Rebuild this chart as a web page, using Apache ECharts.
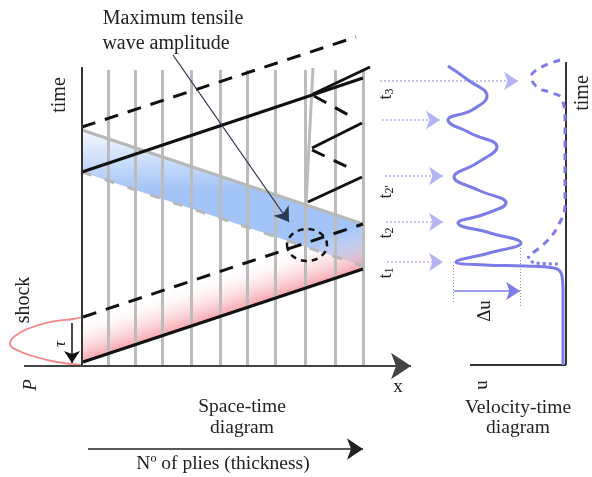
<!DOCTYPE html>
<html><head><meta charset="utf-8">
<script src="https://cdn.jsdelivr.net/npm/echarts@6/dist/echarts.min.js"></script>
<style>html,body{margin:0;padding:0;background:#fff}#c{width:592px;height:477px}</style>
</head><body><div id="c"></div>
<script>
// ---- Space-time diagram data (x = through-thickness position, t = time, diagram units) ----
const plyBoundaries = [108,135,162,191,220,247,275,305,335,363];
const plyTopT = 70, baseT = 366;
const tiltedPly = [[313,68],[306,205]];
const compressionFront = [[83,362],[363,269]];
const compressionTail  = [[83,317],[363,224]];
const reflectedFront   = [[82,172],[363,78]];
const reflectedTail    = [[82,127],[356,37]];
const branchFront      = [[313,94],[370,67]];
const zigSolid  = [[[312,148],[362,123]], [[308,202],[362,177]]];
const zigDashed = [[[314,96],[354,118]], [[312,150],[354,170]]];
const tensionBandTop    = [[82,130],[363,224]];
const tensionBandBottom = [[82,172],[363,266]];
const shockPulse = [[82,317],[73,319],[50,322],[30,328],[15,336],[10,344],[17,350],[33,356],[57,362],[81,365]];
const maxAmpEllipse = {c:[307,245], rx:20, ry:16};
// ---- Velocity-time diagram data (u = free-surface velocity, t = time) ----
const velocityWave = [[448,66],[468,80],[487,96],[472,110],[448,120],[470,133],[497,147],[477,163],[454,177],[478,190],[506,203],[485,214],[458,223],[490,233],[521,243],[489,253],[456,262],[485,265],[525,266],[554,268],[562,276],[563,292],[563,365]];
const velocityDashed = [[560,60],[531,77],[538,88],[549,92],[562,99],[565,122],[565,205],[559,224],[546,242],[528,256]];
const velocityDotted = [[528,256],[535,263],[559,264]];
const tMarksT = [81,120,176,222,262];
const tMarksStartU = [380,382,385,386,387];
const tMarksEndU = [518,440,443,443,443];
const deltaU = [[454,291],[520,291]];
const deltaGuides = [[[453,262],[453,304]], [[520,245],[520,308]]];

const serif = '"Liberation Serif","DejaVu Serif",serif';
const BLUE = '#7b7ce8';

function seg(a,b){return {coords:[a,b]};}
function linesSeries(data, style, sym){
  return {type:'lines', coordinateSystem:'cartesian2d', polyline:false, silent:true,
    symbol: sym ? ['none','arrow'] : ['none','none'], symbolSize: sym || 0,
    lineStyle: Object.assign({opacity:1, curveness:0}, style), data: data, z: style.z || 3};
}

const chart = echarts.init(document.getElementById('c'), null, {renderer:'canvas'});

function polyItem(pts, gradFn){
  return {type:'custom', silent:true, z:1, data:[0],
    renderItem: function(params, api){
      const p = pts.map(q => api.coord(q));
      return {type:'polygon', shape:{points:p}, style:{fill: gradFn(api), stroke:null}};
    }};
}

const option = {
  animation:false,
  grid:{left:0,right:0,top:0,bottom:0},
  xAxis:{type:'value', min:0, max:592, show:false},
  yAxis:{type:'value', min:0, max:477, inverse:true, show:false},
  series:[
    // blue tensile band
    polyItem([tensionBandTop[0], tensionBandTop[1], tensionBandBottom[1], tensionBandBottom[0]], function(api){
      const a = api.coord([0,132]), b = api.coord([0,190]);
      return new echarts.graphic.LinearGradient(a[0],a[1],b[0],b[1],
        [{offset:0,color:'#f2f7ff'},{offset:1,color:'#a3c4f7'}], true);
    }),
    // pink compressive wedge
    Object.assign(polyItem([compressionTail[0], compressionTail[1], compressionFront[1], compressionFront[0]], function(api){
      const a = api.coord([83,317]), b = api.coord([96.5,357.5]);
      return new echarts.graphic.LinearGradient(a[0],a[1],b[0],b[1],
        [{offset:0,color:'rgba(255,255,255,0)'},{offset:1,color:'rgba(246,160,168,0.95)'}], true);
    }), {z:2}),
    // ply boundaries
    linesSeries(plyBoundaries.map(x => seg([x,plyTopT],[x,baseT])).concat([seg(tiltedPly[0],tiltedPly[1])]),
      {color:'#bcbcbc', width:3}),
    // band edges
    linesSeries([seg(tensionBandTop[0],tensionBandTop[1])], {color:'#b8b8b8', width:3, z:4}),
    linesSeries([seg(tensionBandBottom[0],tensionBandBottom[1])], {color:'#b8b8b8', width:3, type:[10,14], z:4}),
    // black wave fronts
    linesSeries([seg(compressionFront[0],compressionFront[1]), seg(reflectedFront[0],reflectedFront[1]),
      seg(branchFront[0],branchFront[1])].concat(zigSolid.map(s=>seg(s[0],s[1]))),
      {color:'#111', width:3, z:5}),
    linesSeries([seg(compressionTail[0],compressionTail[1]), seg(reflectedTail[0],reflectedTail[1])]
      .concat(zigDashed.map(s=>seg(s[0],s[1]))),
      {color:'#111', width:3, type:[14,10], z:5}),
    // axes of space-time diagram
    linesSeries([seg([82,67],[82,baseT])], {color:'#333', width:2, z:6}),
    linesSeries([seg([24,baseT],[411,baseT])], {color:'#444', width:2, z:6}, [16,20]),
    // tau arrow
    linesSeries([seg([72,323],[72,363])], {color:'#111', width:1.5, z:6}, [8,12]),
    // annotation arrow
    linesSeries([seg([173,55],[289,222])], {color:'#2b3a52', width:1.3, z:7}, [10,14]),
    // thickness arrow
    linesSeries([seg([88,449],[363,449])], {color:'#222', width:1.5, z:6}, [12,16]),
    // shock pulse
    {type:'line', data:shockPulse, smooth:0.5, symbol:'none', silent:true, z:3,
      lineStyle:{color:'#f08a8a', width:1.8}},
    // max amplitude ellipse
    {type:'custom', silent:true, z:8, data:[0], renderItem:function(params, api){
      const c = api.coord(maxAmpEllipse.c);
      const rx = api.size([maxAmpEllipse.rx,0])[0], ry = api.size([0,maxAmpEllipse.ry])[1];
      return {type:'path', shape:{pathData:
        'M'+(c[0]-rx)+' '+c[1]+' A'+rx+' '+ry+' 0 1 0 '+(c[0]+rx)+' '+c[1]+' A'+rx+' '+ry+' 0 1 0 '+(c[0]-rx)+' '+c[1]+' Z'},
        style:{fill:null, stroke:'#111', lineWidth:2.5, lineDash:[6,5]}};
    }},
    // velocity-time axes
    linesSeries([seg([566,62],[566,365]), seg([470,365],[566,365])], {color:'#333', width:2, z:3}),
    // velocity curves
    {type:'line', data:velocityWave, smooth:0.45, symbol:'none', silent:true, z:5,
      lineStyle:{color:BLUE, width:3}},
    {type:'line', data:velocityDashed, smooth:0.45, symbol:'none', silent:true, z:5,
      lineStyle:{color:BLUE, width:3, type:[7,6]}},
    {type:'line', data:velocityDotted, smooth:0.5, symbol:'none', silent:true, z:5,
      lineStyle:{color:BLUE, width:3, type:[3,3]}},
    // time-mark arrows
    linesSeries(tMarksT.map((t,i)=>seg([tMarksStartU[i],t],[tMarksEndU[i],t])),
      {color:'#b3b4f2', width:1.5, type:[2,2], z:4}, [10,14]),
    // delta-u guides
    linesSeries(deltaGuides.map(s=>seg(s[0],s[1])), {color:'#999', width:1, type:[1,2], z:4}),
    linesSeries([seg(deltaU[0],deltaU[1])], {color:BLUE, width:1.5, z:5}, [10,14])
  ],
  graphic:[]
};

function txt(text, x, y, size, rot, extra){
  return Object.assign({type:'text', x:x, y:y, rotation:rot||0, z:100, silent:true,
    style:Object.assign({text:text, font: size+'px '+serif, fill:'#222',
      align:'center', verticalAlign:'middle', textAlign:'center', textVerticalAlign:'middle'}, extra||{})});
}
function tLabel(sub, x, y){
  return {type:'text', x:x, y:y, rotation:Math.PI/2, z:100, silent:true,
    style:{text:'{a|t}{b|'+sub+'}', align:'center', verticalAlign:'middle', textAlign:'center', textVerticalAlign:'middle',
      rich:{a:{font:'18px '+serif, fill:'#222'}, b:{font:'12px '+serif, fill:'#222', padding:[8,0,0,0]}}}};
}
const R = Math.PI/2;
option.graphic = [
  txt('Maximum tensile', 173, 19, 20),
  txt('wave amplitude', 166, 44, 20),
  txt('time', 60, 95, 20, R),
  txt('shock', 24, 300, 20, R),
  txt('τ', 61, 344, 17, R, {font:'italic 17px '+serif}),
  txt('P', 31, 385, 19, R, {font:'italic 19px '+serif}),
  txt('x', 398, 387, 19),
  txt('Space-time', 242, 407, 19.5),
  txt('diagram', 242, 428, 19.5),
  txt('Nº of plies (thickness)', 223, 464, 19.5),
  txt('u', 482, 385, 19, R),
  txt('Δu', 485, 311, 19, R),
  txt('Velocity-time', 518, 408, 19.5),
  txt('diagram', 518, 428, 19.5),
  txt('time', 583, 93, 20, R),
  tLabel('3', 386, 94),
  tLabel("2'", 386, 192),
  tLabel('2', 386, 233),
  tLabel('1', 386, 273)
];
chart.setOption(option);
</script></body></html>
